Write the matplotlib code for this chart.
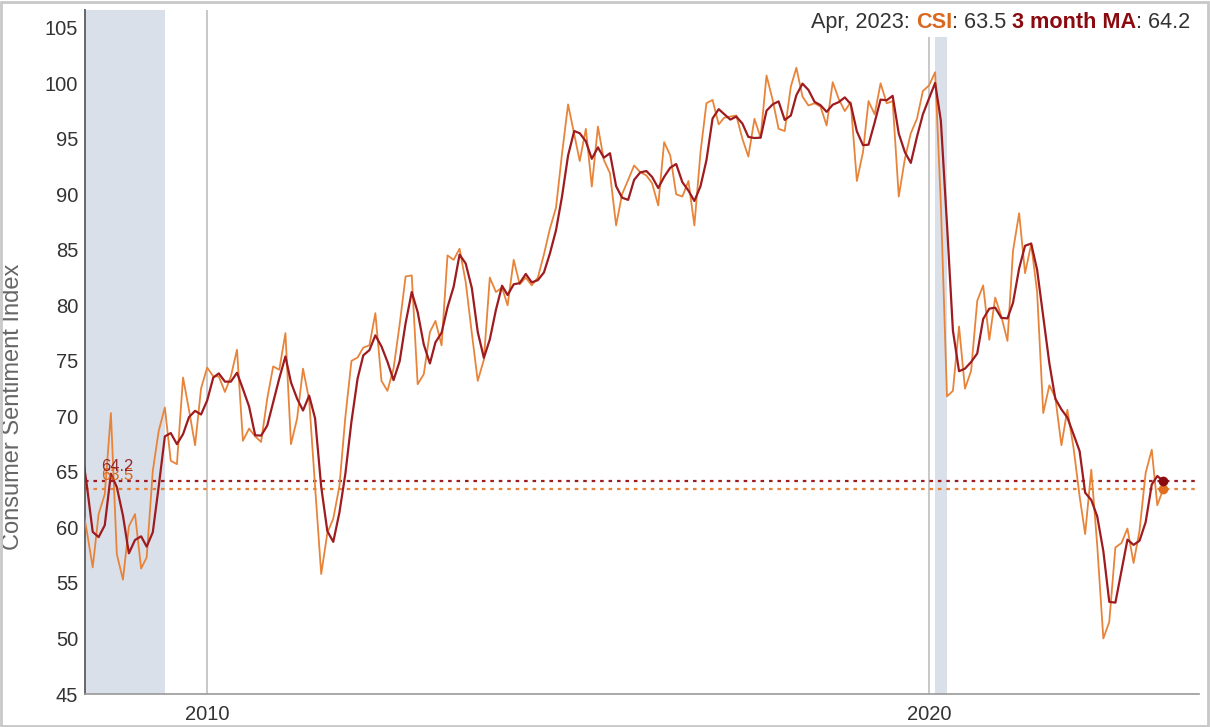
import matplotlib
matplotlib.use("Agg")
import matplotlib.pyplot as plt
from matplotlib.patches import Rectangle
from matplotlib.offsetbox import TextArea, HPacker, AnchoredOffsetbox
import pandas as pd

plt.rcParams['font.family'] = ['Liberation Sans', 'DejaVu Sans']

# ---- data -------------------------------------------------------------
# University of Michigan Consumer Sentiment Index, monthly, Feb 2008 .. Apr 2023
csi_start = "2008-02-01"
csi = [
    70.8, 69.5, 62.6, 59.8, 56.4, 61.2, 63.0, 70.3, 57.6, 55.3, 60.1,            # 2008 Feb-Dec
    61.2, 56.3, 57.3, 65.1, 68.7, 70.8, 66.0, 65.7, 73.5, 70.6, 67.4, 72.5,      # 2009
    74.4, 73.6, 73.6, 72.2, 73.6, 76.0, 67.8, 68.9, 68.2, 67.7, 71.6, 74.5,      # 2010
    74.2, 77.5, 67.5, 69.8, 74.3, 71.5, 63.7, 55.8, 59.5, 60.8, 63.7, 69.9,      # 2011
    75.0, 75.3, 76.2, 76.4, 79.3, 73.2, 72.3, 74.3, 78.3, 82.6, 82.7, 72.9,      # 2012
    73.8, 77.6, 78.6, 76.4, 84.5, 84.1, 85.1, 82.1, 77.5, 73.2, 75.1, 82.5,      # 2013
    81.2, 81.6, 80.0, 84.1, 81.9, 82.5, 81.8, 82.5, 84.6, 86.9, 88.8, 93.6,      # 2014
    98.1, 95.4, 93.0, 95.9, 90.7, 96.1, 93.1, 91.9, 87.2, 90.0, 91.3, 92.6,      # 2015
    92.0, 91.7, 91.0, 89.0, 94.7, 93.5, 90.0, 89.8, 91.2, 87.2, 93.8, 98.2,      # 2016
    98.5, 96.3, 96.9, 97.0, 97.1, 95.0, 93.4, 96.8, 95.1, 100.7, 98.5, 95.9,     # 2017
    95.7, 99.7, 101.4, 98.8, 98.0, 98.2, 97.9, 96.2, 100.1, 98.6, 97.5, 98.3,    # 2018
    91.2, 93.8, 98.4, 97.2, 100.0, 98.2, 98.4, 89.8, 93.2, 95.5, 96.8, 99.3,     # 2019
    99.8, 101.0, 89.1, 71.8, 72.3, 78.1, 72.5, 74.1, 80.4, 81.8, 76.9, 80.7,     # 2020
    79.0, 76.8, 84.9, 88.3, 82.9, 85.5, 81.2, 70.3, 72.8, 71.7, 67.4, 70.6,      # 2021
    67.2, 62.8, 59.4, 65.2, 58.4, 50.0, 51.5, 58.2, 58.6, 59.9, 56.8, 59.7,      # 2022
    64.9, 67.0, 62.0, 63.5,                                                      # 2023 Jan-Apr
]

# 3 month moving average, monthly, Apr 2008 .. Apr 2023
ma_start = "2008-04-01"
ma_3m = [
    67.63, 63.97, 59.60, 59.13, 60.20, 64.83, 63.63, 61.07, 57.67,               # 2008 Apr-Dec
    58.87, 59.20, 58.27, 59.57, 63.70, 68.20, 68.50, 67.50, 68.40, 69.93, 70.50, 70.17,  # 2009
    71.43, 73.50, 73.87, 73.13, 73.13, 73.93, 72.47, 70.90, 68.30, 68.27, 69.17, 71.27,  # 2010
    73.43, 75.40, 73.07, 71.60, 70.53, 71.87, 69.83, 63.67, 59.67, 58.70, 61.33, 64.80,  # 2011
    69.53, 73.40, 75.50, 75.97, 77.30, 76.30, 74.93, 73.27, 74.97, 78.40, 81.20, 79.40,  # 2012
    76.47, 74.77, 76.67, 77.53, 79.83, 81.67, 84.57, 83.77, 81.57, 77.60, 75.27, 76.93,  # 2013
    79.60, 81.77, 80.93, 81.90, 82.00, 82.83, 82.07, 82.27, 82.97, 84.67, 86.77, 89.77,  # 2014
    93.50, 95.70, 95.50, 94.77, 93.20, 94.23, 93.30, 93.70, 90.73, 89.70, 89.50, 91.30,  # 2015
    91.97, 92.10, 91.57, 90.57, 91.57, 92.40, 92.73, 91.10, 90.33, 89.40, 90.73, 93.07,  # 2016
    96.83, 97.67, 97.23, 96.73, 97.00, 96.37, 95.17, 95.07, 95.10, 97.53, 98.10, 98.37,  # 2017
    96.70, 97.10, 98.93, 99.97, 99.40, 98.33, 98.03, 97.43, 98.07, 98.30, 98.73, 98.13,  # 2018
    95.67, 94.43, 94.47, 96.47, 98.53, 98.47, 98.87, 95.47, 93.80, 92.83, 95.17, 97.20,  # 2019
    98.63, 100.03, 96.63, 87.30, 77.73, 74.07, 74.30, 74.90, 75.67, 78.77, 79.70, 79.80, # 2020
    78.87, 78.83, 80.23, 83.33, 85.37, 85.57, 83.20, 79.00, 74.77, 71.60, 70.63, 69.90,  # 2021
    68.40, 66.87, 63.13, 62.47, 61.00, 57.87, 53.30, 53.23, 56.10, 58.90, 58.43, 58.80,  # 2022
    60.47, 63.87, 64.63, 64.17,                                                  # 2023 Jan-Apr
]

last_label = "Apr, 2023"
last_csi = 63.5
last_ma = 64.2

recessions = [("2007-12-01", "2009-06-01"), ("2020-02-01", "2020-04-01")]
year_ticks = ["2010-01-01", "2020-01-01"]
year_labels = ["2010", "2020"]
y_ticks = [45, 50, 55, 60, 65, 70, 75, 80, 85, 90, 95, 100, 105]
y_label = "Consumer Sentiment Index"

# ---- styling -------------------------------------------------------------
C_CSI = "#E8843A"
C_MA = "#9E1B1F"
C_TEXT_CSI = "#D9691E"
C_TEXT_MA = "#8B0A0F"

W, H = 1210, 727
fig = plt.figure(figsize=(W / 100, H / 100), dpi=100)
ax_left, ax_right, ax_bottom, ax_top = 85, 1199, 33, 717
ax = fig.add_axes([ax_left / W, ax_bottom / H, (ax_right - ax_left) / W, (ax_top - ax_bottom) / H])

csi_dates = pd.date_range(csi_start, periods=len(csi), freq="MS")
ma_dates = pd.date_range(ma_start, periods=len(ma_3m), freq="MS")

for s, e in recessions:
    ax.axvspan(pd.Timestamp(s), pd.Timestamp(e), color="#DAE0EA", lw=0, zorder=0)

for t in year_ticks:
    ax.axvline(pd.Timestamp(t), color="#C8C8C8", lw=1.4, zorder=1)

ax.axhline(last_ma, color=C_MA, lw=1.6, ls=(0, (1.6, 2.2)), zorder=2)
ax.axhline(last_csi, color=C_CSI, lw=1.6, ls=(0, (1.6, 2.2)), zorder=2)

ax.plot(csi_dates, csi, color=C_CSI, lw=1.3, zorder=3)
ax.plot(ma_dates, ma_3m, color=C_MA, lw=1.6, zorder=4)

ax.plot([csi_dates[-1]], [last_csi], "o", color="#E07020", ms=7, zorder=5, mec="none")
ax.plot([ma_dates[-1]], [last_ma], "o", color="#8B0A0F", ms=7, zorder=6, mec="none")

xl = (pd.Timestamp("2008-04-23"), pd.Timestamp("2023-09-28"))
ax.set_xlim(xl)
ax.set_ylim(45, 106.6)

ax.annotate(f"{last_csi}", xy=(xl[0], last_csi), xytext=(16, 6), textcoords="offset pixels",
            color=C_TEXT_CSI, fontsize=12, va="bottom", ha="left", zorder=7)
ax.annotate(f"{last_ma}", xy=(xl[0], last_ma), xytext=(16, 7), textcoords="offset pixels",
            color=C_TEXT_MA, fontsize=12, va="bottom", ha="left", zorder=8, alpha=0.85)

ax.set_yticks(y_ticks)
ax.set_yticklabels([str(v) for v in y_ticks])
ax.set_xticks([pd.Timestamp(t) for t in year_ticks])
ax.set_xticklabels(year_labels)
ax.tick_params(axis="both", length=0, labelsize=14.5, colors="#333333")
ax.tick_params(axis="y", pad=5)
ax.tick_params(axis="x", pad=8)

ax.set_ylabel(y_label, fontsize=17, color="#666666")
ax.yaxis.set_label_coords((24 - ax_left) / (ax_right - ax_left),
                          ((H - 407) - ax_bottom) / (ax_top - ax_bottom))

for sp in ("top", "right"):
    ax.spines[sp].set_visible(False)
ax.spines["left"].set_color("#666666")
ax.spines["left"].set_linewidth(1.4)
ax.spines["bottom"].set_color("#999999")
ax.spines["bottom"].set_linewidth(1.2)

# header annotation (white background box over the top of the plot)
fs = 15.6
parts = [
    TextArea(f"{last_label}: ", textprops=dict(color="#333333", fontsize=fs)),
    TextArea("CSI", textprops=dict(color=C_TEXT_CSI, fontsize=fs, fontweight="bold")),
    TextArea(f": {last_csi} ", textprops=dict(color="#333333", fontsize=fs)),
    TextArea("3 month MA", textprops=dict(color=C_TEXT_MA, fontsize=fs, fontweight="bold")),
    TextArea(f": {last_ma}", textprops=dict(color="#333333", fontsize=fs)),
]
box = HPacker(children=parts, align="baseline", pad=0, sep=0)
anch = AnchoredOffsetbox(loc="upper right", child=box, pad=0.25, frameon=True,
                         bbox_to_anchor=(1194 / W, 1 - 9 / H), bbox_transform=fig.transFigure,
                         borderpad=0)
anch.patch.set_facecolor("white")
anch.patch.set_edgecolor("none")
anch.patch.set_boxstyle("square", pad=0)
fig.add_artist(anch)

fig.patches.append(Rectangle((0.001, 0.0015), 0.997, 0.996, transform=fig.transFigure,
                             fill=False, edgecolor="#C8C8C8", lw=2))

fig.savefig("out.png", dpi=100)
